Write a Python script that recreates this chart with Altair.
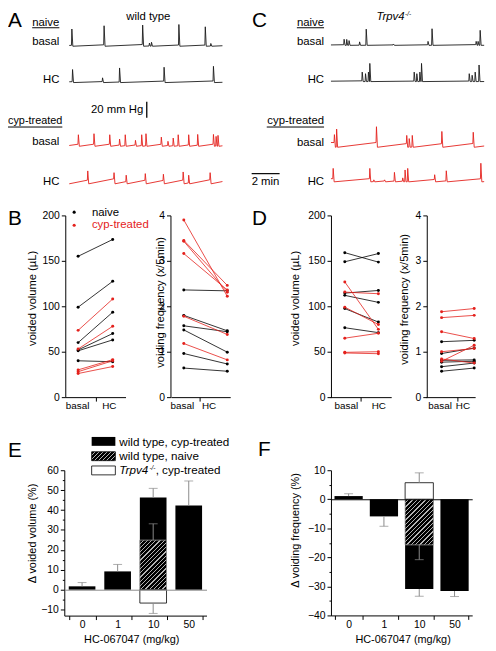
import altair as alt
import pandas as pd

FONT = "Liberation Sans"
BLACK = "#000000"
RED = "#e4211c"
GRAY = "#8a8a8a"
HATCH_LINE = "#b4b4b4"

W, H = 486, 641

# ---------------- data: pressure traces (minutes, mmHg above baseline) ----------------
A_NB_T = [0.19, 2.52, 5.31, 5.80, 5.95, 7.93, 9.84, 10.24]
A_NB_H = [21.8, 25.9, 26.8, 4.0, 5.0, 27.5, 24.6, 3.5]
A_NH_T = [0.24, 2.41, 3.64, 6.86, 10.43]
A_NH_H = [16.5, 6.0, 18.5, 19.4, 20.6]
A_CB_T = [0.66, 1.79, 2.93, 3.64, 4.05, 4.79, 5.24, 5.55, 6.66, 7.14, 7.52, 7.88, 8.64, 9.29, 10.43, 10.62, 10.76]
A_CB_H = [14.6, 15.9, 14.6, 9.1, 14.6, 7.5, 14.6, 15.9, 11.6, 6.3, 10.4, 14.6, 14.6, 15.0, 15.0, 12.5, 13.8]
A_CH_T = [1.34, 3.24, 4.12, 5.50, 6.81, 8.24, 8.64, 10.19]
A_CH_H = [16.3, 14.1, 10.9, 12.9, 12.1, 15.0, 10.9, 14.1]
C_NB_T = [0.95, 1.14, 1.31, 2.07, 2.55, 4.52, 7.02, 7.31, 10.50, 10.64, 10.79]
C_NB_H = [7.7, 7.5, 6.0, 4.4, 20.5, 1.7, 5.0, 21.0, 5.0, 5.0, 19.0]
C_NH_T = [2.26, 2.50, 2.71, 2.81, 6.02, 6.21, 6.43, 6.55, 10.00, 10.21, 10.43, 10.71]
C_NH_H = [12, 10, 12, 23, 12, 10, 12, 23, 10, 8, 12, 21]
C_CB_T = [0.25, 0.41, 3.29, 5.48, 5.66, 5.88, 8.02, 10.29]
C_CB_H = [16, 23, 26, 15, 11, 15, 20, 19]
C_CH_T = [0.16, 2.81, 3.10, 3.88, 4.59, 5.19, 5.36, 5.55, 7.50, 8.34, 10.84]
C_CH_H = [17, 17, 2.5, 2.5, 12, 5, 15, 17, 9, 14, 23.5]

# ---------------- data: paired basal / HC ----------------
B_VOL_NAIVE_BASAL = [155, 99, 60, 52, 51, 40]
B_VOL_NAIVE_HC = [173.5, 127.5, 93.5, 70, 63, 39]
B_VOL_CYP_BASAL = [73.5, 53, 30, 28, 26]
B_VOL_CYP_HC = [108, 78, 41.3, 40, 33.7]
B_FRQ_NAIVE_BASAL = [2.36, 1.80, 1.57, 1.48, 0.96, 0.64]
B_FRQ_NAIVE_HC = [2.34, 1.46, 1.44, 0.99, 0.73, 0.57]
B_FRQ_CYP_BASAL = [3.90, 3.45, 3.43, 3.16, 1.78, 1.18]
B_FRQ_CYP_HC = [2.22, 2.46, 2.31, 2.36, 1.38, 0.82]
D_VOL_NAIVE_BASAL = [159, 149, 114.5, 112, 97.5, 76.4]
D_VOL_NAIVE_HC = [148.6, 158, 117.4, 104.3, 82.6, 71]
D_VOL_CYP_BASAL = [126.8, 115.6, 99, 64.9, 49.3, 48.6]
D_VOL_CYP_HC = [74.6, 113.8, 80, 70.3, 50, 47.8]
D_FRQ_NAIVE_BASAL = [1.22, 0.96, 0.81, 0.77, 0.67, 0.57]
D_FRQ_NAIVE_HC = [1.25, 1.08, 0.82, 0.79, 0.75, 0.64]
D_FRQ_CYP_BASAL = [1.88, 1.75, 1.44, 1.00, 0.84, 0.79]
D_FRQ_CYP_HC = [1.95, 1.80, 1.29, 1.07, 0.75, 1.14]

# ---------------- data: dose response ----------------
DOSES = ["0", "1", "10", "50"]
E_WT_CYP = [1.7, 9.2, 46.3, 42.3]
E_WT_CYP_ERR = [1.9, 3.5, 4.6, 12.3]
E_WT_NAIVE = [24.9]
E_WT_NAIVE_ERR = [8.2]
E_KO_CYP = [-6.7]
E_KO_CYP_ERR = [5.2]
F_WT_CYP = [1.1, -5.9, -30.9, -31.6]
F_WT_CYP_ERR = [0.8, 3.4, 2.5, 1.9]
F_WT_NAIVE = [-15.7]
F_WT_NAIVE_ERR = [5.1]
F_KO_CYP = [5.7]
F_KO_CYP_ERR = [3.4]

ONE = pd.DataFrame({"k": [0]})


def txt(s, x, y, size=11.5, align="left", color=BLACK, angle=0, style="normal", baseline="alphabetic"):
    return alt.Chart(ONE).mark_text(
        text=s, align=align, baseline=baseline, font=FONT, fontSize=size,
        color=color, angle=angle, fontStyle=style
    ).encode(x=alt.value(x), y=alt.value(y))


def seg(x1, y1, x2, y2, color=BLACK, w=1.0):
    return alt.Chart(ONE).mark_rule(color=color, strokeWidth=w).encode(
        x=alt.value(x1), y=alt.value(y1), x2=alt.value(x2), y2=alt.value(y2))


def box(x1, y1, x2, y2, fill, stroke=None, w=0.8):
    kw = dict(fill=fill)
    if stroke:
        kw.update(stroke=stroke, strokeWidth=w)
    return alt.Chart(ONE).mark_rect(**kw).encode(
        x=alt.value(x1), y=alt.value(y1), x2=alt.value(x2), y2=alt.value(y2))


def dot(x, y, color):
    return alt.Chart(ONE).mark_circle(size=10, color=color, opacity=1).encode(
        x=alt.value(x), y=alt.value(y))


def hatch(w, h, spacing=4.3, frac=0.72):
    n = max(1, round((w + h) / spacing))
    k = (w + h) / (w * w + h * h)
    stops = []
    for i in range(n):
        a, b, c = i / n, (i + frac) / n, (i + 1) / n
        stops += [alt.GradientStop(offset=a, color=BLACK), alt.GradientStop(offset=b, color=BLACK),
                  alt.GradientStop(offset=b, color=HATCH_LINE), alt.GradientStop(offset=c, color=HATCH_LINE)]
    return alt.LinearGradient(gradient="linear", stops=stops, x1=0, y1=0, x2=w * k, y2=h * k)


def trace(times, heights, rate, cap, start, x0, base, color, t_end=11.08):
    rows = [(0.0, start)]
    level, prev = start, 0.0
    for t, h in zip(times, heights):
        tp = max(t - 0.03, prev)
        rows.append((tp, min(cap, level + rate * (tp - prev))))
        rows.append((t, h))
        rows.append((t + 0.07, 0.0))
        level, prev = 0.0, t + 0.07
    rows.append((t_end, min(cap, level + rate * (t_end - prev))))
    df = pd.DataFrame(rows, columns=["t", "p"])
    df["i"] = range(len(df))
    return alt.Chart(df).mark_line(color=color, strokeWidth=0.9, strokeJoin="round").encode(
        x=alt.X("t:Q", scale=alt.Scale(domain=[0, 11], range=[x0, x0 + 154], nice=False, zero=False), axis=None),
        y=alt.Y("p:Q", scale=alt.Scale(domain=[0, 30], range=[base, base - 24], nice=False, zero=False), axis=None),
        order="i:Q")


def pairs_df(b, h):
    rows = []
    for i, (vb, vh) in enumerate(zip(b, h)):
        rows.append({"id": i, "c": 0, "v": vb})
        rows.append({"id": i, "c": 1, "v": vh})
    return pd.DataFrame(rows)


def pair_panel(nb, nh, cb, ch, y_x, ydom, yvals, xr, xdom, tick_v, lab_v):
    ys = alt.Scale(domain=ydom, range=[390, 206], nice=False, zero=False)
    xs = alt.Scale(domain=xdom, range=xr, nice=False, zero=False)
    ax_y = alt.Axis(orient="left", offset=-y_x, values=yvals, tickSize=4, title=None,
                    labelOverlap=False, labelFlush=False)
    ax_xt = alt.Axis(orient="bottom", offset=-(H - 390), values=[tick_v], labels=False,
                     tickSize=4, title=None)
    ax_xl = alt.Axis(orient="bottom", offset=-(H - 390), values=lab_v,
                     labelExpr="datum.value < 0.5 ? 'basal' : 'HC'", ticks=False, domain=False,
                     labelPadding=3, labelFontSize=10, title=None, labelFlush=False,
                     labelOverlap=False, labelBound=False)
    n_df, c_df = pairs_df(nb, nh), pairs_df(cb, ch)
    l1 = alt.Chart(n_df).mark_line(color=BLACK, strokeWidth=0.8).encode(
        x=alt.X("c:Q", scale=xs, axis=ax_xt), y=alt.Y("v:Q", scale=ys, axis=ax_y), detail="id:N")
    l2 = alt.Chart(c_df).mark_line(color=RED, strokeWidth=0.8).encode(
        x=alt.X("c:Q", scale=xs, axis=None), y=alt.Y("v:Q", scale=ys, axis=None), detail="id:N")
    p1 = alt.Chart(n_df).mark_circle(color=BLACK, size=9, opacity=1).encode(
        x=alt.X("c:Q", scale=xs, axis=ax_xl), y=alt.Y("v:Q", scale=ys, axis=None))
    p2 = alt.Chart(c_df).mark_circle(color=RED, size=9, opacity=1).encode(
        x=alt.X("c:Q", scale=xs, axis=None), y=alt.Y("v:Q", scale=ys, axis=None))
    return [l1, l2, p1, p2]


def bar_panel(rng, pi, po, ydom, yrng, y_x, majors, minors, zero_color,
              wt, wt_err, nv, nv_err, ko, ko_err, ko_first):
    step = (rng[1] - rng[0]) / (len(DOSES) - pi + 2 * po)
    bw = step * (1 - pi)
    ppu = (yrng[0] - yrng[1]) / (ydom[1] - ydom[0])
    y0 = yrng[0] - (0 - ydom[0]) * ppu
    xs = alt.Scale(domain=DOSES, range=rng, paddingInner=pi, paddingOuter=po)
    ys = alt.Scale(domain=ydom, range=yrng, nice=False, zero=False)

    def X(axis=None):
        return alt.X("cat:N", scale=xs, axis=axis, sort=None)

    def Y(f, axis=None):
        return alt.Y(f + ":Q", scale=ys, axis=axis)

    x_main = alt.Axis(orient="bottom", offset=-(H - yrng[0]), tickBand="extent", tickSize=4,
                      labelPadding=0, labelFontSize=10.5, title=None, labelAngle=0)
    y_main = alt.Axis(orient="left", offset=-y_x, values=majors, tickSize=4, title=None,
                      labelOverlap=False, labelFlush=False)
    y_minor = alt.Axis(orient="left", offset=-y_x, values=minors, tickSize=2, labels=False,
                       domain=False, title=None)
    x_zero = alt.Axis(orient="bottom", offset=-(H - y0), ticks=False, labels=False,
                      domainColor=zero_color, title=None, zindex=1)

    wt_df = pd.DataFrame({"cat": DOSES, "v": wt})
    nv_df = pd.DataFrame({"cat": ["10"], "v": nv})
    ko_df = pd.DataFrame({"cat": ["10"], "v": ko})
    black = alt.Chart(wt_df).mark_bar(color=BLACK).encode(
        x=X(x_main), y=Y("v", y_main), y2=alt.datum(0))
    hatched = alt.Chart(nv_df).mark_bar(
        fill=hatch(bw, abs(nv[0]) * ppu), stroke="#9a9a9a", strokeWidth=0.8).encode(
        x=X(), y=Y("v"), y2=alt.datum(0))
    white = alt.Chart(ko_df).mark_bar(fill="white", stroke=BLACK, strokeWidth=0.8).encode(
        x=X(x_zero), y=Y("v"), y2=alt.datum(0))
    rows = []
    for cats, vals, errs in ((DOSES, wt, wt_err), (["10"], nv, nv_err), (["10"], ko, ko_err)):
        for c, v, e in zip(cats, vals, errs):
            rows.append({"cat": c, "lo": v, "hi": v + (e if v >= 0 else -e)})
    err_df = pd.DataFrame(rows)
    rules = alt.Chart(err_df).mark_rule(color=GRAY, strokeWidth=1).encode(
        x=X(), y=Y("lo", y_minor), y2="hi:Q")
    caps = alt.Chart(err_df).mark_tick(color=GRAY, size=9, thickness=1).encode(
        x=X(), y=Y("hi"))
    order = [black, white, hatched] if ko_first else [black, hatched, white]
    return order + [rules, caps]


layers = []

# ---------- Panel A ----------
layers += [
    trace(A_NB_T, A_NB_H, 0.8, 2.5, 1.0, 62, 34.7, "#1a1a1a"),
    trace(A_NH_T, A_NH_H, 0.6, 2.0, 1.0, 62, 71.5, "#1a1a1a"),
    trace(A_CB_T, A_CB_H, 2.5, 4.0, 1.0, 62, 136, RED),
    trace(A_CH_T, A_CH_H, 3.5, 7.0, 0.0, 62, 174, RED),
    txt("A", 0, 15.5, 21),
    txt("wild type", 142, 8.5, 11.5, "center"),
    txt("naive", 52, 14, 11.5, "right"), seg(24.5, 16, 52, 16),
    txt("basal", 52, 33.7, 11.5, "right"),
    txt("HC", 52, 72, 11.5, "right"),
    txt("20 mm Hg", 137, 102, 11.5, "right"), seg(140.5, 91, 140.5, 107, BLACK, 1.3),
    txt("cyp-treated", 55, 113, 11, "right"), seg(0, 116.5, 55, 116.5),
    txt("basal", 52, 135, 11.5, "right"),
    txt("HC", 52, 175, 11.5, "right"),
]

# ---------- Panel C ----------
layers += [
    trace(C_NB_T, C_NB_H, 0.3, 1.0, 0.5, 327, 33.8, "#1a1a1a"),
    trace(C_NH_T, C_NH_H, 0.2, 1.0, 0.5, 327, 70.5, "#1a1a1a"),
    trace(C_CB_T, C_CB_H, 2.2, 6.0, 6.0, 327, 137, RED),
    trace(C_CH_T, C_CH_H, 1.6, 4.0, 4.0, 327, 172, RED),
    txt("C", 247, 15.5, 21),
    txt("Trpv4", 373, 8.5, 11.5, "left", style="italic"),
    txt("-/-", 402, 4.5, 6.5, "left", style="italic"),
    txt("naive", 320, 14, 11.5, "right"), seg(292.5, 16, 320, 16),
    txt("basal", 320, 33.5, 11.5, "right"),
    txt("HC", 320, 72, 11.5, "right"),
    txt("cyp-treated", 320, 113, 11.5, "right"), seg(262, 116.5, 320, 116.5),
    txt("basal", 320, 135.3, 11.5, "right"),
    txt("HC", 320, 175, 11.5, "right"),
    txt("2 min", 246.7, 174.7, 11.5), seg(246.7, 163.7, 275, 163.7, BLACK, 1.2),
]

# ---------- Panel B ----------
layers += pair_panel(B_VOL_NAIVE_BASAL, B_VOL_NAIVE_HC, B_VOL_CYP_BASAL, B_VOL_CYP_HC,
                     58, [0, 200], [0, 50, 100, 150, 200], [58, 119], [-0.371, 1.371], 0.514, [-0.03, 0.886])
layers += pair_panel(B_FRQ_NAIVE_BASAL, B_FRQ_NAIVE_HC, B_FRQ_CYP_BASAL, B_FRQ_CYP_HC,
                     164.5, [0, 4], [0, 1, 2, 3, 4], [165, 225], [-0.295, 1.068], 0.364, [-0.045, 0.57])
layers += [
    txt("B", 0, 215.5, 21),
    dot(67, 202.7, BLACK), txt("naive", 85, 207, 11.5),
    dot(67, 216, RED), txt("cyp-treated", 85, 218.7, 11.5, color=RED),
    txt("voided volume (µL)", 25, 290, 11.3, "center", angle=270, baseline="middle"),
    txt("voiding frequency (x/5min)", 154.5, 294, 11.3, "center", angle=270, baseline="middle"),
]

# ---------- Panel D ----------
layers += pair_panel(D_VOL_NAIVE_BASAL, D_VOL_NAIVE_HC, D_VOL_CYP_BASAL, D_VOL_CYP_HC,
                     327, [0, 200], [0, 50, 100, 150, 200], [326, 388], [-0.441, 1.382], 0.47, [0.03, 1.0])
layers += pair_panel(D_FRQ_NAIVE_BASAL, D_FRQ_NAIVE_HC, D_FRQ_CYP_BASAL, D_FRQ_CYP_HC,
                     424, [0, 4], [0, 1, 2, 3, 4], [423, 473], [-0.485, 1.03], 0.485, [-0.06, 0.64])
layers += [
    txt("D", 247, 215.5, 21),
    txt("voided volume (µL)", 291.7, 290, 11.3, "center", angle=270, baseline="middle"),
    txt("voiding frequency (x/5min)", 401.7, 291, 11.3, "center", angle=270, baseline="middle"),
]

# ---------- Panel E ----------
layers += bar_panel([57, 201], 0.25, 0.125, [-13, 60], [611.2, 464], 57,
                    list(range(-10, 61, 10)), list(range(-5, 56, 10)), GRAY,
                    E_WT_CYP, E_WT_CYP_ERR, E_WT_NAIVE, E_WT_NAIVE_ERR, E_KO_CYP, E_KO_CYP_ERR, False)
layers += [
    txt("E", 0, 451, 21),
    box(84.7, 430.3, 108.7, 439.3, BLACK),
    box(84.7, 445.3, 108.7, 454.3, hatch(24, 9), BLACK, 0.8),
    box(84.7, 459.7, 108.7, 468.7, "white", BLACK, 0.8),
    txt("wild type, cyp-treated", 112.7, 439, 11.8),
    txt("wild type, naive", 112.7, 454, 11.8),
    txt("Trpv4", 112.7, 468, 11.8, style="italic"),
    txt("-/-", 143.2, 463.5, 6.5, style="italic"),
    txt(", cyp-treated", 149.5, 468, 11.8),
    txt("Δ voided volume (%)", 25.3, 528, 11, "center", angle=270, baseline="middle"),
    txt("HC-067047 (mg/kg)", 125.3, 635.5, 11, "center", baseline="middle"),
]

# ---------- Panel F ----------
layers += bar_panel([327, 470], 0.2, 0.1, [-40, 10], [611, 464], 327,
                    list(range(-40, 11, 10)), list(range(-35, 6, 10)), BLACK,
                    F_WT_CYP, F_WT_CYP_ERR, F_WT_NAIVE, F_WT_NAIVE_ERR, F_KO_CYP, F_KO_CYP_ERR, True)
layers += [
    txt("F", 253, 450, 21),
    txt("Δ voiding frequency (%)", 291.7, 525, 11, "center", angle=270, baseline="middle"),
    txt("HC-067047 (mg/kg)", 400, 636, 11, "center", baseline="middle"),
]

chart = alt.layer(*layers).properties(
    width=W, height=H, padding=0,
    autosize=alt.AutoSizeParams(type="none"),
).resolve_scale(x="independent", y="independent").resolve_axis(
    x="independent", y="independent"
).configure_axis(
    labelFont=FONT, labelFontSize=10.5, labelColor=BLACK, domainColor=BLACK, tickColor=BLACK,
    domainWidth=1, tickWidth=1, grid=False, titleFont=FONT,
).configure_view(stroke=None)

chart.save("out.html", embed_options={"renderer": "svg", "actions": False})
